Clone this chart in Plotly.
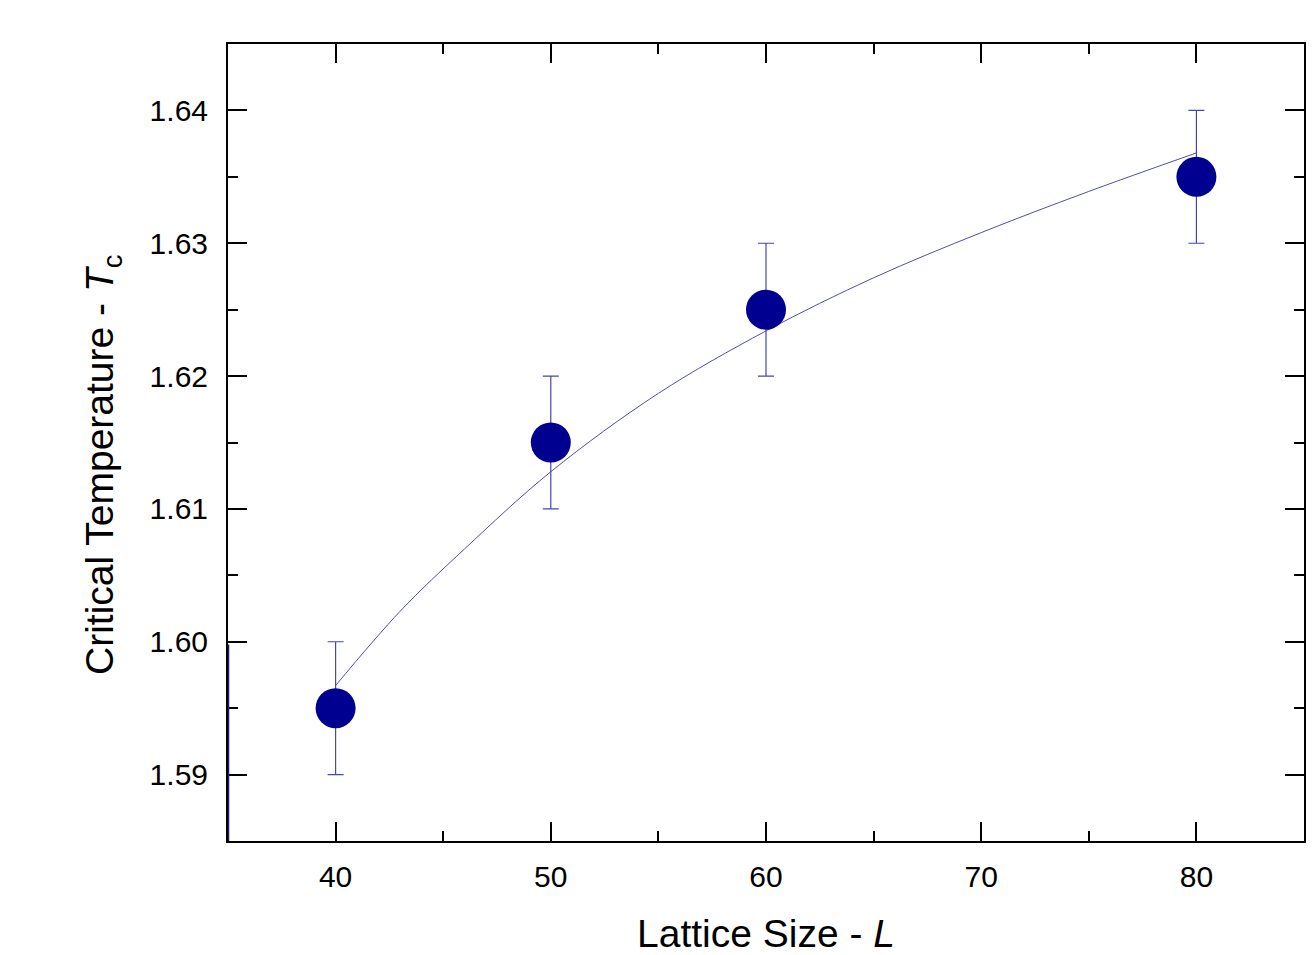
import plotly.graph_objects as go

# Measured critical temperature vs lattice size
lattice_size = [40, 50, 60, 80]
tc_values = [1.595, 1.615, 1.625, 1.635]
tc_errors = [0.005, 0.005, 0.005, 0.005]

# Finite-size fit curve
fit_L = [40, 43, 46, 50, 55, 60, 65, 70, 75, 80]
fit_tc = [1.5967, 1.6023, 1.6070, 1.6128, 1.6187, 1.6234, 1.6274, 1.6308, 1.6339, 1.6368]

x_ticks = [40, 50, 60, 70, 80]
y_ticks = [1.59, 1.60, 1.61, 1.62, 1.63, 1.64]

FONT = "Liberation Sans, Arial, sans-serif"
NAVY = "#000090"
LINE_BLUE = "#4646b4"

fig = go.Figure()

fig.add_trace(go.Scatter(
    x=fit_L, y=fit_tc, mode="lines",
    line=dict(color="#5050a8", width=1, shape="spline"),
    showlegend=False, hoverinfo="skip",
))

fig.add_trace(go.Scatter(
    x=lattice_size, y=tc_values, mode="markers",
    marker=dict(size=40, color=NAVY, line=dict(width=0)),
    error_y=dict(type="data", array=tc_errors, visible=True,
                 color=LINE_BLUE, thickness=1.2, width=8),
    showlegend=False,
))

# Short coloured segment along the lower part of the left spine
fig.add_shape(type="line", xref="x", yref="y",
              x0=35, x1=35, y0=1.585, y1=1.5998,
              line=dict(color="#1a1a6e", width=2.5), layer="above")

axis_common = dict(
    showline=True, linecolor="black", linewidth=2,
    mirror="ticks", ticks="inside", ticklen=19, tickwidth=2, tickcolor="black",
    showgrid=False, zeroline=False,
    tickfont=dict(family=FONT, size=30, color="black"),
)

fig.update_xaxes(
    range=[35, 85], tickvals=x_ticks, ticktext=[str(v) for v in x_ticks],
    minor=dict(dtick=5, tick0=35, ticks="inside", ticklen=10, tickwidth=2, tickcolor="black"),
    title=dict(text="Lattice Size - <i>L</i>", font=dict(family=FONT, size=39, color="black"), standoff=28),
    ticklabelstandoff=8,
    **axis_common,
)
fig.update_yaxes(
    range=[1.585, 1.645], tickvals=y_ticks, ticktext=[f"{v:.2f}" for v in y_ticks],
    minor=dict(dtick=0.005, tick0=1.585, ticks="inside", ticklen=10, tickwidth=2, tickcolor="black"),
    ticklabelstandoff=12,
    **axis_common,
)

# Vertical axis title
fig.add_annotation(
    text="Critical Temperature - <i>T</i><sub>c</sub>",
    xref="paper", yref="paper", x=-0.116, y=0.472,
    xanchor="center", yanchor="middle", textangle=-90, showarrow=False,
    font=dict(family=FONT, size=39, color="black"),
)

fig.update_layout(
    width=1313, height=955,
    margin=dict(l=228, r=7, t=44, b=113),
    paper_bgcolor="white", plot_bgcolor="white",
)

fig.write_html("out.html")
